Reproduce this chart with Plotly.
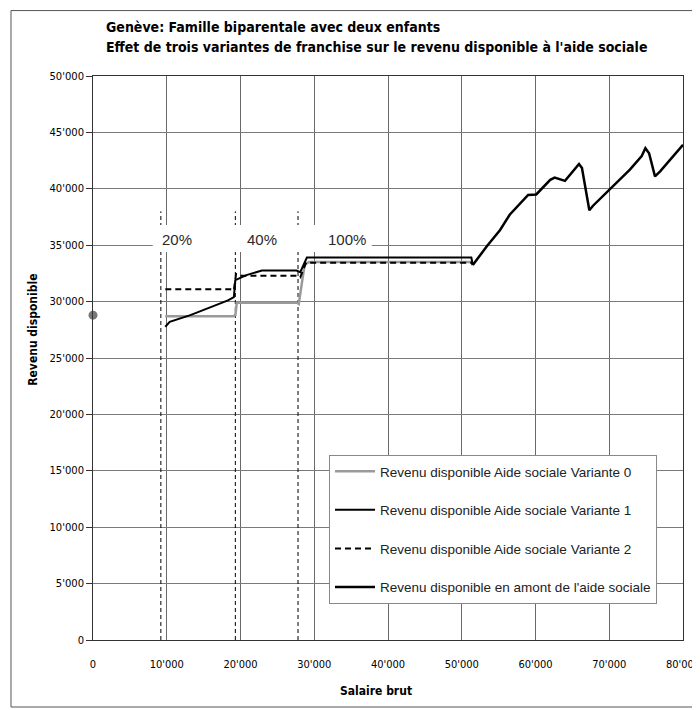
import plotly.graph_objects as go

# Variante 0 (grey)
v0_x = [9800, 19000, 19300, 19500, 27700, 27900, 28700, 29300, 51500]
v0_y = [28700, 28700, 28800, 29900, 29900, 29800, 33300, 33500, 33500]

# Variante 1 (solid)
v1_x = [9800, 10400, 13200, 16300, 18300, 19100, 19300, 20800, 22900, 27600, 28100, 29000, 51300, 51500]
v1_y = [27770, 28200, 28800, 29550, 30100, 30400, 31900, 32350, 32750, 32750, 32600, 33900, 33900, 33250]

# Variante 2 (dashed)
v2_x = [9800, 18600, 19100, 19400, 19900, 27600, 28100, 28900, 51300, 51500]
v2_y = [31100, 31100, 31000, 32450, 32300, 32300, 32150, 33450, 33450, 33250]

# revenu disponible en amont de l'aide sociale
amont_x = [51500, 53400, 55200, 56500, 59000, 60100, 62000, 62600, 64000, 64900, 65900,
           66300, 66700, 67300, 67800, 70100, 72800, 74400, 74900, 75400, 76200, 76900, 80000]
amont_y = [33250, 34900, 36350, 37700, 39450, 39500, 40800, 41000, 40700, 41400, 42200,
           41850, 40200, 38100, 38500, 40000, 41700, 42900, 43600, 43150, 41100, 41550, 43900]

# seuils de franchise
seuil_x = [9200, 19300, 27800]
seuil_top = 38000
seuil_labels = ["20%", "40%", "100%"]
label_x = [11400, 22900, 34500]
label_y = 35500

point_x = [0]
point_y = [28800]

fig = go.Figure()

for sx in seuil_x:
    fig.add_trace(go.Scatter(x=[sx, sx], y=[0, seuil_top], mode="lines",
                             line=dict(color="black", width=1, dash="4px,3px"),
                             showlegend=False, hoverinfo="skip"))

fig.add_trace(go.Scatter(x=v0_x, y=v0_y, mode="lines", name="Revenu disponible Aide sociale Variante 0",
                         legendgroup="a", line=dict(color="#9a9a9a", width=2.5)))
fig.add_trace(go.Scatter(x=v1_x, y=v1_y, mode="lines", name="Revenu disponible Aide sociale Variante 1",
                         legendgroup="b", line=dict(color="black", width=2)))
fig.add_trace(go.Scatter(x=v2_x, y=v2_y, mode="lines", name="Revenu disponible Aide sociale Variante 2",
                         legendgroup="c", line=dict(color="black", width=2, dash="6px,4px")))
fig.add_trace(go.Scatter(x=amont_x, y=amont_y, mode="lines", name="Revenu disponible en amont de l'aide sociale",
                         legendgroup="d", line=dict(color="black", width=2.5)))
fig.add_trace(go.Scatter(x=point_x, y=point_y, mode="markers", showlegend=False, cliponaxis=False,
                         marker=dict(color="#777777", size=9)))

# white box behind the percentage labels
fig.add_shape(type="rect", x0=8100, x1=37800, y0=34400, y1=36800, xref="x", yref="y",
              fillcolor="white", line=dict(width=0), layer="above")
for lx, lt in zip(label_x, seuil_labels):
    fig.add_annotation(x=lx, y=label_y, text=lt, showarrow=False,
                       font=dict(family="Liberation Sans, Arial", size=15, color="#2a2a2a"))

# outer frame
fig.add_shape(type="rect", xref="paper", yref="paper", x0=-0.139, x1=1.0237, y0=-0.1188, y1=1.116,
              line=dict(color="#555555", width=1), fillcolor="rgba(0,0,0,0)", layer="above")

title_font = dict(family="Liberation Sans Narrow, DejaVu Sans Condensed, Arial Narrow, sans-serif",
                  size=14, color="black")
fig.add_annotation(xref="paper", yref="paper", x=0.0186, y=1.0869, xanchor="left", yanchor="middle",
                   text="<b>Genève: Famille biparentale avec deux enfants</b>", showarrow=False, font=title_font)
fig.add_annotation(xref="paper", yref="paper", x=0.0186, y=1.0514, xanchor="left", yanchor="middle",
                   text="<b>Effet de trois variantes de franchise sur le revenu disponible à l'aide sociale</b>",
                   showarrow=False, font=title_font)

axis_font = dict(family="Liberation Sans Narrow, DejaVu Sans Condensed, Arial Narrow, sans-serif",
                 size=12, color="black")
fig.add_annotation(xref="paper", yref="paper", x=-0.1017, y=0.55, textangle=-90,
                   xanchor="center", yanchor="middle",
                   text="<b>Revenu disponible</b>", showarrow=False, font=axis_font)
fig.add_annotation(xref="paper", yref="paper", x=0.48, y=-0.0904, xanchor="center", yanchor="middle",
                   text="<b>Salaire brut</b>", showarrow=False, font=axis_font)

# the page adds an 8px body margin, so margins are shifted to compensate
fig.update_layout(
    width=700, height=702, autosize=False,
    margin=dict(l=85, r=25, t=68, b=70),
    paper_bgcolor="white", plot_bgcolor="white",
    separators=".'",
    font=dict(family="Liberation Sans, Arial", color="black"),
    legend=dict(x=0.4, y=0.328, xanchor="left", yanchor="top",
                bgcolor="white", bordercolor="#888888", borderwidth=1,
                font=dict(family="Liberation Sans, Arial", size=13.5, color="#222222"),
                traceorder="grouped", tracegroupgap=18, itemwidth=40),
)

fig.update_xaxes(range=[0, 80000], dtick=10000, tickformat=",d", showgrid=True,
                 gridcolor="#6a6a6a", gridwidth=1, zeroline=False, automargin=False,
                 showline=True, linecolor="#333333", linewidth=1, mirror=True,
                 ticks="", ticklabelstandoff=14, ticklabeloverflow="allow",
                 tickfont=dict(family="DejaVu Sans Condensed, Arial Narrow", size=11, color="black"))
fig.update_yaxes(range=[0, 50000], dtick=5000, tickformat=",d", showgrid=True,
                 gridcolor="#7a7a7a", gridwidth=1, zeroline=False, automargin=False,
                 showline=True, linecolor="#333333", linewidth=1, mirror=True,
                 ticks="outside", ticklen=6, tickcolor="#333333",
                 tickfont=dict(family="DejaVu Sans", size=10, color="black"))

fig.write_html("out.html")
